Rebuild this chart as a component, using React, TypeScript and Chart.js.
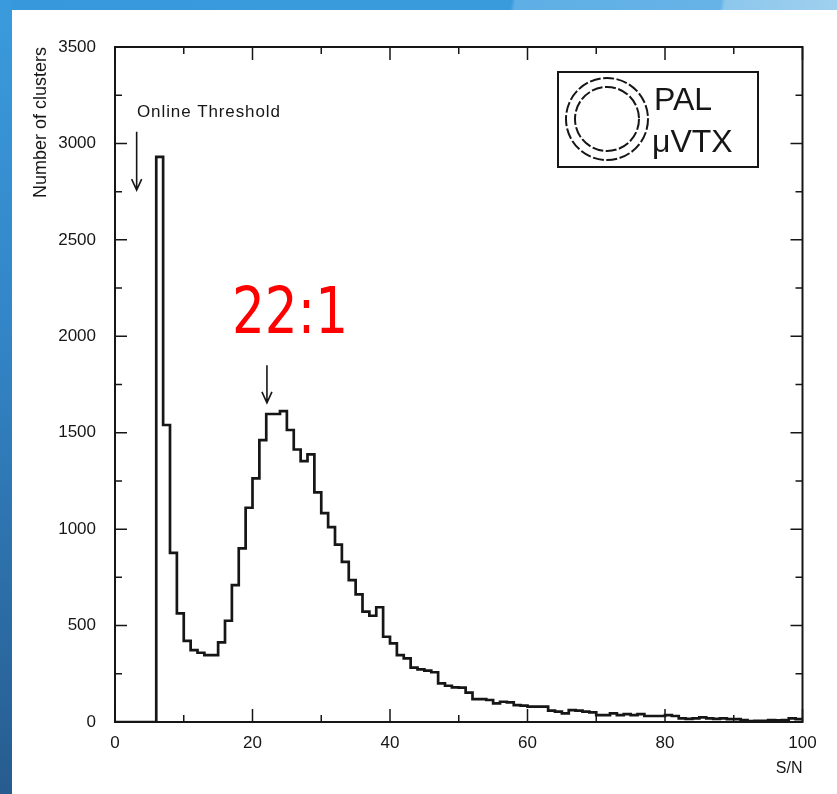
import React, { useEffect, useRef } from "react";
import { Chart, registerables } from "chart.js";

Chart.register(...registerables);

// Histogram of cluster S/N, one bin per unit (left edges 0..99)
const binEdges: number[] = Array.from({ length: 100 }, (_, i) => i);
const counts: number[] = [
  0, 0, 0, 0, 0, 0, 2930, 1540, 877, 563,
  421, 373, 359, 347, 347, 413, 525, 710, 900, 1111,
  1263, 1462, 1597, 1597, 1612, 1514, 1413, 1353, 1388, 1191,
  1083, 1010, 920, 830, 736, 662, 572, 551, 595, 442,
  408, 347, 330, 282, 273, 266, 258, 200, 188, 180,
  178, 152, 119, 119, 114, 97, 105, 102, 88, 85,
  80, 80, 80, 59, 54, 45, 62, 59, 54, 50,
  36, 36, 45, 36, 41, 36, 41, 31, 31, 31,
  36, 31, 19, 16, 19, 24, 19, 16, 19, 15,
  15, 10, 5, 6, 6, 10, 8, 10, 19, 15,
];
const xTickLabels: number[] = [0, 20, 40, 60, 80, 100];
const yTickLabels: number[] = [0, 500, 1000, 1500, 2000, 2500, 3000, 3500];
const xTitle = "S/N";
const yTitle = "Number of clusters";
const thresholdLabel = "Online Threshold";
const thresholdArrow = { x: 3.15, from: 3060, to: 2758 };
const peakLabel = "22:1";
const peakArrow = { x: 22.1, from: 1850, to: 1655 };
const logoLines = ["PAL", "\u03bcVTX"];

const INK = "#161616";
const FONT = "'Liberation Sans', Arial, sans-serif";

function arrow(ctx: CanvasRenderingContext2D, x: number, y1: number, y2: number, hw: number, hh: number) {
  ctx.beginPath();
  ctx.moveTo(x, y1);
  ctx.lineTo(x, y2);
  ctx.moveTo(x - hw, y2 - hh);
  ctx.lineTo(x, y2);
  ctx.lineTo(x + hw, y2 - hh);
  ctx.stroke();
}

const decorPlugin = {
  id: "decor",
  afterDatasetsDraw(chart: any) {
    const { ctx, chartArea: a, scales } = chart;
    const x = scales.x;
    const y = scales.y;
    ctx.save();
    ctx.strokeStyle = INK;
    ctx.lineWidth = 2;
    ctx.strokeRect(a.left, a.top, a.right - a.left, a.bottom - a.top);
    ctx.beginPath();
    for (let v = 0; v <= 100; v += 10) {
      const px = x.getPixelForValue(v);
      const len = v % 20 === 0 ? 13 : 7;
      ctx.moveTo(px, a.bottom);
      ctx.lineTo(px, a.bottom - len);
      ctx.moveTo(px, a.top);
      ctx.lineTo(px, a.top + len);
    }
    for (let v = 0; v <= 3500; v += 250) {
      const py = y.getPixelForValue(v);
      const len = v % 500 === 0 ? 12 : 7;
      ctx.moveTo(a.left, py);
      ctx.lineTo(a.left + len, py);
      ctx.moveTo(a.right, py);
      ctx.lineTo(a.right - len, py);
    }
    ctx.lineWidth = 1.5;
    ctx.stroke();

    // Online threshold annotation
    ctx.fillStyle = INK;
    ctx.font = `17px ${FONT}`;
    ctx.textBaseline = "alphabetic";
    ctx.textAlign = "left";
    (ctx as any).letterSpacing = "0.9px";
    ctx.fillText(thresholdLabel, 137, 117, 146);
    (ctx as any).letterSpacing = "0px";
    ctx.lineWidth = 1.6;
    arrow(ctx, x.getPixelForValue(thresholdArrow.x), y.getPixelForValue(thresholdArrow.from), y.getPixelForValue(thresholdArrow.to), 5, 11);

    // Peak annotation
    arrow(ctx, x.getPixelForValue(peakArrow.x), y.getPixelForValue(peakArrow.from), y.getPixelForValue(peakArrow.to), 5, 11);
    ctx.fillStyle = "#ff0000";
    ctx.font = `64px 'DejaVu Sans', sans-serif`;
    ctx.fillText(peakLabel, 232, 333, 116);

    // PAL logo box
    ctx.strokeStyle = INK;
    ctx.lineWidth = 2;
    ctx.strokeRect(558, 72, 200, 95);
    ctx.setLineDash([11, 2.5]);
    ctx.beginPath();
    ctx.arc(607, 119, 41, 0, Math.PI * 2);
    ctx.stroke();
    ctx.beginPath();
    ctx.arc(607, 119, 32, 0, Math.PI * 2);
    ctx.stroke();
    ctx.setLineDash([]);
    ctx.fillStyle = INK;
    ctx.font = `32px ${FONT}`;
    ctx.fillText(logoLines[0], 654, 110);
    ctx.fillText(logoLines[1], 652, 152, 88);
    ctx.restore();
  },
};

export default function App() {
  const ref = useRef<HTMLCanvasElement | null>(null);
  useEffect(() => {
    if (!ref.current) return;
    const pts = binEdges.map((e, i) => ({ x: e, y: counts[i] }));
    pts.push({ x: 100, y: counts[counts.length - 1] });
    const chart = new Chart(ref.current, {
      type: "line",
      data: {
        datasets: [
          {
            data: pts,
            stepped: "before",
            borderColor: INK,
            borderWidth: 2.7,
            pointRadius: 0,
            fill: false,
          } as any,
        ],
      },
      options: {
        responsive: false,
        animation: false,
        devicePixelRatio: 1,
        layout: { padding: { left: 0, top: 47, right: 34.5, bottom: 0 } },
        plugins: { legend: { display: false }, tooltip: { enabled: false } },
        scales: {
          x: {
            type: "linear",
            min: 0,
            max: 100,
            afterFit: (s: any) => {
              s.height = 72;
            },
            grid: { display: false, drawTicks: false },
            border: { display: false },
            ticks: {
              stepSize: 10,
              autoSkip: false,
              maxRotation: 0,
              padding: 11,
              color: INK,
              font: { family: FONT, size: 17 },
              callback: (v: any) => (xTickLabels.includes(Number(v)) ? String(v) : ""),
            },
            title: {
              display: true,
              text: xTitle,
              align: "end",
              color: INK,
              font: { family: FONT, size: 16 },
              padding: { top: 0, bottom: 16 },
            },
          },
          y: {
            type: "linear",
            min: 0,
            max: 3500,
            afterFit: (s: any) => {
              s.width = 115;
            },
            grid: { display: false, drawTicks: false },
            border: { display: false },
            ticks: {
              stepSize: 250,
              autoSkip: false,
              padding: 19,
              color: INK,
              font: { family: FONT, size: 17 },
              callback: (v: any) => (yTickLabels.includes(Number(v)) ? String(v) : ""),
            },
            title: {
              display: true,
              text: yTitle,
              align: "end",
              color: INK,
              font: { family: FONT, size: 18 },
              padding: { top: 30, bottom: 0 },
            },
          },
        },
      },
      plugins: [decorPlugin],
    });
    return () => chart.destroy();
  }, []);

  return (
    <div style={{ position: "fixed", left: 0, top: 0, width: 837, height: 794, background: "#ffffff", overflow: "hidden" }}>
      <div
        style={{
          position: "absolute",
          left: 0,
          top: 0,
          width: 837,
          height: 10,
          background: "linear-gradient(100deg, #3799db 0%, #3a9bdc 61%, #5eafe5 61.5%, #66b3e7 86%, #8cc7ec 86.5%, #9fd0ef 100%)",
        }}
      />
      <div
        style={{
          position: "absolute",
          left: 0,
          top: 0,
          width: 12,
          height: 794,
          background: "linear-gradient(180deg, #3a9bdc 0%, #3283c4 45%, #275c8f 100%)",
        }}
      />
      <canvas ref={ref} width={837} height={794} style={{ position: "absolute", left: 0, top: 0 }} />
    </div>
  );
}
